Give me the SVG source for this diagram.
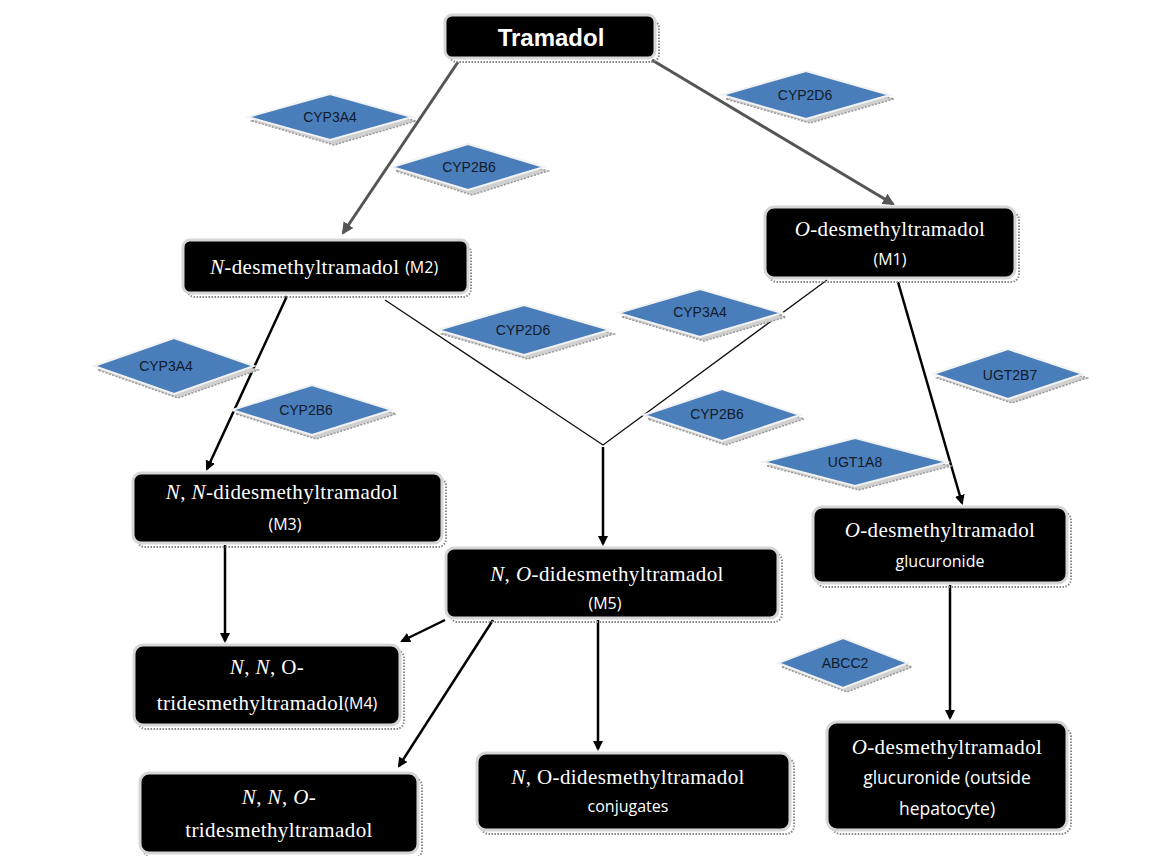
<svg xmlns="http://www.w3.org/2000/svg" width="1164" height="856" viewBox="0 0 1164 856">
<defs>
<style>
.box{fill:#000;stroke:#d6d6d6;stroke-width:3}
.bsh{fill:none;stroke:#8a8a8a;stroke-width:2;stroke-dasharray:1.5 1.5}
.dia{fill:#4a7ebb;stroke:#f2f2f2;stroke-width:2}
.dsh{fill:#d0d0d0;stroke:#9a9a9a;stroke-width:1.5;stroke-dasharray:2 1.5}
.dt{font-family:"Liberation Sans","DejaVu Sans",sans-serif;font-size:14px;fill:#111a2a;text-anchor:middle;dominant-baseline:central}
.nt{font-family:"Liberation Serif","DejaVu Serif",serif;font-size:21px;letter-spacing:0.4px;fill:#fff;text-anchor:middle;dominant-baseline:central}
.st{font-family:"Open Sans","Liberation Sans",sans-serif;font-size:16px;letter-spacing:0;fill:#fff}
.st2{font-family:"Open Sans","Liberation Sans",sans-serif;font-size:17.5px;letter-spacing:0;fill:#fff}
.i{font-style:italic}
.c{fill:none;stroke:#000;stroke-width:2.5}
.g{fill:none;stroke:#555;stroke-width:3}
.t{fill:none;stroke:#111;stroke-width:1.3}
</style>
<marker id="ab" markerWidth="10" markerHeight="10" refX="8" refY="5" orient="auto" markerUnits="userSpaceOnUse"><path d="M0,0 L10,5 L0,10 z" fill="#000"/></marker>
<marker id="ag" markerWidth="12" markerHeight="12" refX="10" refY="6" orient="auto" markerUnits="userSpaceOnUse"><path d="M0,0 L12,6 L0,12 z" fill="#555"/></marker>
</defs>
<rect width="1164" height="856" fill="#fff"/>

<g id="connectors">
<line class="g" x1="458" y1="62" x2="343" y2="233" marker-end="url(#ag)"/>
<line class="g" x1="652" y1="60" x2="893" y2="204" marker-end="url(#ag)"/>
<line class="c" x1="287" y1="296" x2="207" y2="469" marker-end="url(#ab)"/>
<polyline class="t" points="385,300 603,445 827,280"/>
<line class="c" x1="603" y1="447" x2="603" y2="544" marker-end="url(#ab)"/>
<line class="c" x1="898" y1="282" x2="962" y2="503" marker-end="url(#ab)"/>
<line class="c" x1="225" y1="545" x2="225" y2="641" marker-end="url(#ab)"/>
<line class="c" x1="445" y1="620" x2="402" y2="641" marker-end="url(#ab)"/>
<line class="c" x1="493" y1="620" x2="399" y2="766" marker-end="url(#ab)"/>
<line class="c" x1="598" y1="620" x2="598" y2="749" marker-end="url(#ab)"/>
<line class="c" x1="950" y1="585" x2="950" y2="718" marker-end="url(#ab)"/>
</g>

<g id="n-tramadol">
<rect class="bsh" x="449" y="20" width="210" height="42" rx="8"/>
<rect class="box" x="445" y="15" width="210" height="43" rx="7"/>
<text x="551" y="37" style="font-family:'Liberation Sans',sans-serif;font-size:24px;font-weight:bold;fill:#fff;text-anchor:middle;dominant-baseline:central">Tramadol</text>
</g>

<g id="n-m2">
<rect class="bsh" x="187" y="245" width="284" height="52" rx="8"/>
<rect class="box" x="183" y="240" width="285" height="53" rx="7"/>
<text class="nt" x="324" y="267"><tspan class="i">N</tspan>-desmethyltramadol <tspan class="st">(M2)</tspan></text>
</g>

<g id="n-m1">
<rect class="bsh" x="769" y="212" width="250" height="70" rx="8"/>
<rect class="box" x="765" y="207" width="250" height="71" rx="9"/>
<text class="nt" x="890" y="229"><tspan class="i">O</tspan>-desmethyltramadol</text>
<text class="nt st" x="890" y="259">(M1)</text>
</g>

<g id="n-m3">
<rect class="bsh" x="137" y="478" width="309" height="69" rx="8"/>
<rect class="box" x="133" y="473" width="309" height="70" rx="8"/>
<text class="nt" x="282" y="492"><tspan class="i">N</tspan>, <tspan class="i">N</tspan>-didesmethyltramadol</text>
<text class="nt st" x="285" y="524">(M3)</text>
</g>

<g id="n-m5">
<rect class="bsh" x="450" y="553" width="332" height="69" rx="8"/>
<rect class="box" x="446" y="548" width="332" height="70" rx="8"/>
<text class="nt" x="607" y="574"><tspan class="i">N</tspan>, <tspan class="i">O</tspan>-didesmethyltramadol</text>
<text class="nt st" x="605" y="603">(M5)</text>
</g>

<g id="n-odmt-gluc">
<rect class="bsh" x="817" y="512" width="254" height="75" rx="8"/>
<rect class="box" x="813" y="507" width="254" height="76" rx="9"/>
<text class="nt" x="940" y="530"><tspan class="i">O</tspan>-desmethyltramadol</text>
<text class="nt st" x="940" y="561">glucuronide</text>
</g>

<g id="n-m4">
<rect class="bsh" x="138" y="650" width="266" height="79" rx="8"/>
<rect class="box" x="134" y="645" width="266" height="80" rx="9"/>
<text class="nt" x="267" y="667"><tspan class="i">N</tspan>, <tspan class="i">N</tspan>, O-</text>
<text class="nt" x="267" y="703">tridesmethyltramadol<tspan class="st">(M4)</tspan></text>
</g>

<g id="n-tride">
<rect class="bsh" x="144" y="778" width="278" height="80" rx="8"/>
<rect class="box" x="140" y="773" width="278" height="80" rx="9"/>
<text class="nt" x="279" y="797"><tspan class="i">N</tspan>, <tspan class="i">N</tspan>, <tspan class="i">O</tspan>-</text>
<text class="nt" x="279" y="830">tridesmethyltramadol</text>
</g>

<g id="n-conj">
<rect class="bsh" x="481" y="758" width="313" height="76" rx="8"/>
<rect class="box" x="477" y="753" width="313" height="77" rx="9"/>
<text class="nt" x="628" y="777"><tspan class="i">N</tspan>, O-didesmethyltramadol</text>
<text class="nt st" x="628" y="806">conjugates</text>
</g>

<g id="n-outside">
<rect class="bsh" x="831" y="727" width="240" height="107" rx="10"/>
<rect class="box" x="827" y="722" width="240" height="108" rx="10"/>
<text class="nt" x="947" y="747"><tspan class="i">O</tspan>-desmethyltramadol</text>
<text class="nt st2" x="947" y="777">glucuronide (outside</text>
<text class="nt st2" x="947" y="808">hepatocyte)</text>
</g>

<g id="e-cyp3a4-top">
<polygon class="dsh" points="252,121 334,98 416,121 334,145"/>
<polygon class="dia" points="248,117 330,94 412,117 330,140"/>
<text class="dt" x="330" y="117">CYP3A4</text>
</g>
<g id="e-cyp2b6-top">
<polygon class="dsh" points="396,171 472,148 548,171 472,195"/>
<polygon class="dia" points="392,167 468,144 544,167 468,190"/>
<text class="dt" x="469" y="167">CYP2B6</text>
</g>
<g id="e-cyp2d6-top">
<polygon class="dsh" points="726,99 810,75 894,99 810,123"/>
<polygon class="dia" points="722,95 806,71 890,95 806,119"/>
<text class="dt" x="805" y="95">CYP2D6</text>
</g>
<g id="e-cyp2d6-mid">
<polygon class="dsh" points="442,334 528,309 614,334 528,359"/>
<polygon class="dia" points="438,330 524,305 610,330 524,355"/>
<text class="dt" x="523" y="330">CYP2D6</text>
</g>
<g id="e-cyp3a4-mid">
<polygon class="dsh" points="622,317 704,293 786,317 704,341"/>
<polygon class="dia" points="618,313 700,289 782,313 700,337"/>
<text class="dt" x="700" y="312">CYP3A4</text>
</g>
<g id="e-cyp3a4-left">
<polygon class="dsh" points="98,370 178,342 258,370 178,398"/>
<polygon class="dia" points="94,366 174,338 254,366 174,394"/>
<text class="dt" x="166" y="366">CYP3A4</text>
</g>
<g id="e-cyp2b6-left">
<polygon class="dsh" points="236,414 316,389 396,414 316,439"/>
<polygon class="dia" points="232,410 312,385 392,410 312,435"/>
<text class="dt" x="306" y="410">CYP2B6</text>
</g>
<g id="e-cyp2b6-mid">
<polygon class="dsh" points="648,419 726,393 804,419 726,445"/>
<polygon class="dia" points="644,415 722,389 800,415 722,441"/>
<text class="dt" x="717" y="414">CYP2B6</text>
</g>
<g id="e-ugt2b7">
<polygon class="dsh" points="937,378 1012,353 1087,378 1012,403"/>
<polygon class="dia" points="933,374 1008,349 1083,374 1008,399"/>
<text class="dt" x="1010" y="375">UGT2B7</text>
</g>
<g id="e-ugt1a8">
<polygon class="dsh" points="767,466 859,442 951,466 859,490"/>
<polygon class="dia" points="763,462 855,438 947,462 855,486"/>
<text class="dt" x="855" y="462">UGT1A8</text>
</g>
<g id="e-abcc2">
<polygon class="dsh" points="782,667 847,642 912,667 847,692"/>
<polygon class="dia" points="778,663 843,638 908,663 843,688"/>
<text class="dt" x="845" y="663">ABCC2</text>
</g>
</svg>
